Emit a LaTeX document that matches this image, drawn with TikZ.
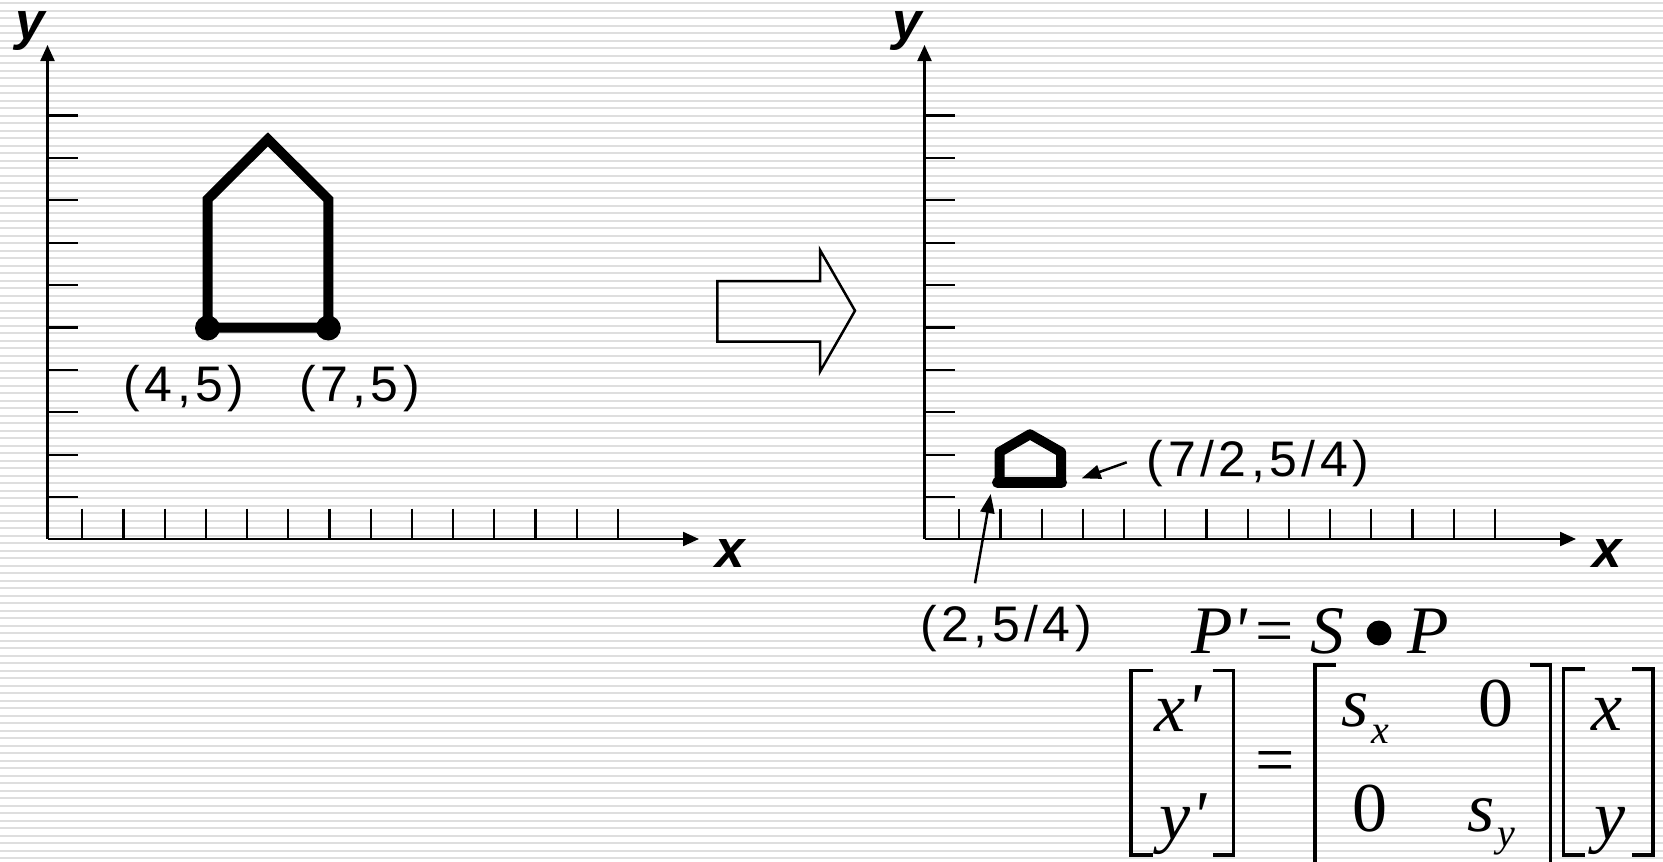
\documentclass[tikz,border=0pt]{standalone}
\usepackage{fontspec}
\usetikzlibrary{arrows.meta}
\newfontfamily\labfont[LetterSpace=9]{Liberation Sans}
\newfontfamily\axfont{Liberation Sans}
\newfontfamily\eqfont[Ligatures=TeXOff]{Liberation Serif}
\tikzset{
 stripe/.style={draw=black!13, line width=2.2pt},
 axis/.style={line width=2.2pt, -{Triangle[length=16pt,width=14pt]}},
 tickmark/.style={line width=2.2pt},
 house/.style={line width=10pt, line join=miter},
 lab/.style={anchor=base, inner sep=0pt, font=\labfont\fontsize{50}{52}\selectfont},
 axlab/.style={anchor=base, inner sep=0pt, font=\axfont\bfseries\itshape\fontsize{53}{55}\selectfont},
 ptr/.style={line width=2.5pt, -{Triangle[length=19pt,width=14pt]}},
 hollow/.style={line width=2.5pt, line join=miter},
 eq/.style={anchor=base west, inner sep=0pt, font=\eqfont\itshape\fontsize{68}{70}\selectfont},
 equp/.style={anchor=base, inner sep=0pt, font=\eqfont\fontsize{68}{70}\selectfont},
 mat/.style={anchor=base, inner sep=0pt, font=\eqfont\itshape\fontsize{70}{72}\selectfont},
 matup/.style={anchor=base, inner sep=0pt, font=\eqfont\fontsize{70}{72}\selectfont},
 sub/.style={anchor=base west, inner sep=0pt, font=\eqfont\itshape\fontsize{40}{42}\selectfont},
 brk/.style={line width=3.5pt, line join=miter, line cap=butt},
}
\begin{document}
\begin{tikzpicture}[x=1pt,y=-1pt]
\useasboundingbox (0,0) rectangle (1663,862);
\fill[white] (0,0) rectangle (1663,862);
\foreach \i in {0,...,114} \draw[stripe] (0,{3.3+7.5*\i}) -- (1663,{3.3+7.5*\i});

% two coordinate panels
\foreach \ox in {0,877} {
 \begin{scope}[xshift=\ox]
  \coordinate (o\ox) at (47.5,539);
  \coordinate (ytip\ox) at (47.5,45);
  \coordinate (xtip\ox) at (699,539);
  \foreach \k in {0,...,9} \draw[tickmark] (47.5,{497-42.4*\k}) -- (77.5,{497-42.4*\k});
  \foreach \k in {0,...,13} \draw[tickmark] ({82.3+41.2*\k},508.5) -- ({82.3+41.2*\k},539);
  \draw[axis] (o\ox) -- (ytip\ox);
  \draw[axis] (o\ox) -- (xtip\ox);
  \node[axlab] (ylab\ox) at (30,39.5) {y};
  \node[axlab] (xlab\ox) at (730,567) {x};
 \end{scope}
}

% original house
\draw[house] (207.5,327.5) -- (207.5,199.4) -- (267.9,139.4) -- (328.3,199.4) -- (328.3,327.5) -- cycle;
\fill (207.5,328) circle[radius=12.5pt];
\fill (328.3,328) circle[radius=12.5pt];
\node[lab] (l45) at (184,401) {(4,5)};
\node[lab] (l75) at (359.5,401) {(7,5)};

% hollow arrow
\draw[hollow] (717.3,281) -- (820,281) -- (820,250) -- (855,310.7) -- (820,371.7) -- (820,341.7) -- (717.3,341.7) -- cycle;

% scaled house
\draw[house, line join=round] (999.5,482) -- (999.5,452) -- (1030,434.3) -- (1061,452) -- (1061,482) -- cycle;
\draw[line width=11pt, line cap=round] (997.5,482.5) -- (1061.5,482.5);

\node[lab] (l72) at (1258,476) {(7/2,5/4)};
\coordinate (p72s) at (1126.7,462.3);
\coordinate (p72e) at (1081.7,478.3);
\draw[ptr] (p72s) -- (p72e);
\node[lab] (l2) at (1006,641) {(2,5/4)};
\coordinate (p2s) at (975,583.3);
\coordinate (p2e) at (990.7,494);
\draw[ptr] (p2s) -- (p2e);

% P' = S . P
\node[eq] (Pp) at (1191,653) {P'};
\node[equp] (eq1) at (1275,653) {=};
\node[eq] (S) at (1310,653) {S};
\node[circle, fill, minimum size=25pt, inner sep=0pt] (dot) at (1379,633) {};
\node[eq] (P) at (1407,653) {P};

% matrix equation
\draw[brk] (1152.7,670.7) -- (1131,670.7) -- (1131,855) -- (1152.7,855);
\draw[brk] (1212.7,670.7) -- (1233.7,670.7) -- (1233.7,855) -- (1212.7,855);
\node[mat] (mx1) at (1178,731) {x'};
\node[mat] (my1) at (1183,839) {y'};
\node[matup] (eq2) at (1275,783) {=};
\draw[brk] (1336,665) -- (1315,665) -- (1315,880);
\draw[brk] (1530,665) -- (1550.3,665) -- (1550.3,880);
\node[mat, anchor=base west] (s1) at (1341,726) {s};
\node[sub] (sx) at (1371,743) {x};
\node[matup] (z1) at (1496,726.7) {0};
\node[matup] (z2) at (1370,831.7) {0};
\node[mat, anchor=base west] (s2) at (1467,831.7) {s};
\node[sub] (sy) at (1497,846) {y};
\draw[brk] (1585,669) -- (1563.3,669) -- (1563.3,855) -- (1585,855);
\draw[brk] (1632,669) -- (1653,669) -- (1653,855) -- (1632,855);
\node[mat] (mx2) at (1607.5,730) {x};
\node[mat] (my2) at (1610,839) {y};
\end{tikzpicture}
\end{document}
